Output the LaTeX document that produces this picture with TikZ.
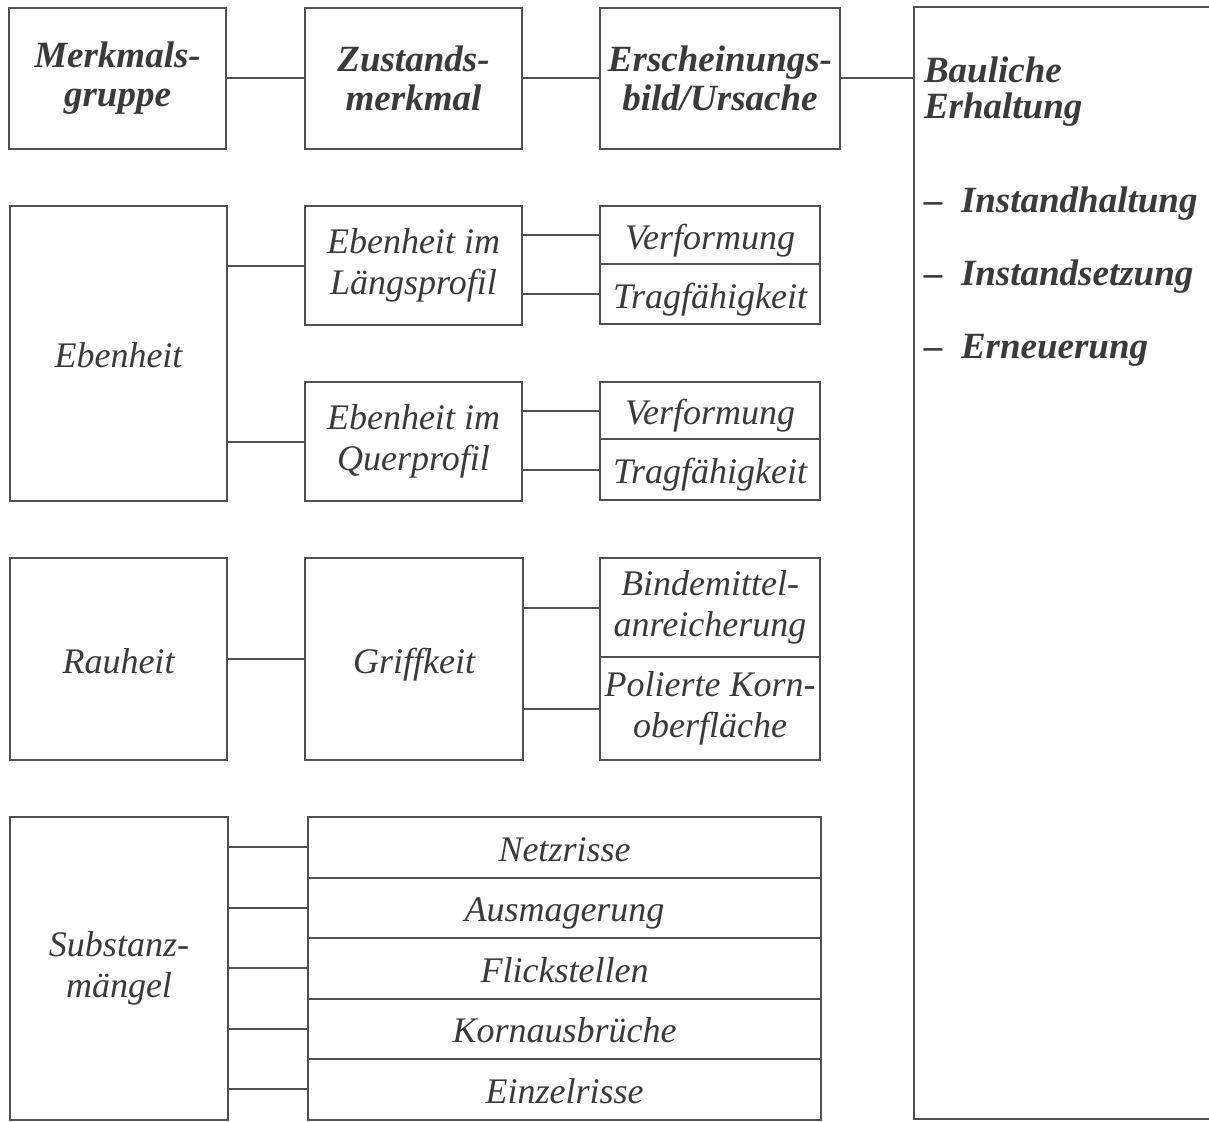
\documentclass[tikz,border=0pt]{standalone}
\usepackage{fontspec}
\setmainfont{Liberation Serif}
\definecolor{ink}{HTML}{3A3A3A}
\definecolor{rule}{HTML}{505050}

\begin{document}
\begin{tikzpicture}[x=1pt, y=-1pt, line width=2pt, color=rule, text=ink,
  every node/.style={font=\fontsize{36}{41}\selectfont\itshape, inner sep=0pt, align=center},
  box/.style={draw=rule, rectangle},
  oneline/.style={text height=28pt, text depth=0pt},
  head/.style={font=\fontsize{37}{39}\selectfont\bfseries\itshape}]
\useasboundingbox (0,0) rectangle (1209,1121);
\clip (0,0) rectangle (1209,1121);

\node[box, head, minimum width=217pt, minimum height=141pt] (gruppe) at (117.5, 78.5) {Merkmals-\\gruppe};
\node[box, head, minimum width=217pt, minimum height=141pt] (zustand) at (413.5, 78.5) {Zustands-\\merkmal};
\node[box, head, minimum width=240pt, minimum height=141pt] (bild) at (720, 78.5) {Erscheinungs-\\bild/Ursache};
\node[box, minimum width=316pt, minimum height=1112pt] (erh) at (1072, 563) {};

\node[head, anchor=base west] (bauliche) at (923, 83) {Bauliche};
\node[head, anchor=base west] (erhaltung) at (923, 118) {Erhaltung};
\node[head, anchor=base west] (instandh) at (923, 212) {–\enspace Instandhaltung};
\node[head, anchor=base west] (instands) at (923, 285) {–\enspace Instandsetzung};
\node[head, anchor=base west] (erneuer) at (923, 358) {–\enspace Erneuerung};

\node[box, oneline, minimum width=217pt, minimum height=295pt] (eben) at (118.5, 353.5) {Ebenheit};
\node[box, minimum width=217pt, minimum height=119pt] (laengs) at (413.5, 265.5) {Ebenheit im\\Längsprofil};
\node[box, oneline, minimum width=220pt, minimum height=58pt] (verf1) at (710, 235) {Verformung};
\node[box, oneline, minimum width=220pt, minimum height=60pt] (trag1) at (710, 294) {Tragfähigkeit};
\node[box, minimum width=217pt, minimum height=119pt] (quer) at (413.5, 441.5) {Ebenheit im\\Querprofil};
\node[box, oneline, minimum width=220pt, minimum height=57pt] (verf2) at (710, 410.5) {Verformung};
\node[box, oneline, minimum width=220pt, minimum height=61pt] (trag2) at (710, 469.5) {Tragfähigkeit};

\node[box, oneline, minimum width=217pt, minimum height=202pt] (rau) at (118.5, 659) {Rauheit};
\node[box, oneline, minimum width=218pt, minimum height=202pt] (griff) at (414, 659) {Griffkeit};
\node[box, minimum width=220pt, minimum height=99pt] (binde) at (710, 607.5) {Bindemittel-\\anreicherung};
\node[box, minimum width=220pt, minimum height=103pt] (poliert) at (710, 708.5) {Polierte Korn-\\oberfläche};

\node[box, minimum width=218pt, minimum height=303pt] (subst) at (119, 968.5) {Substanz-\\mängel};
\node[box, oneline, minimum width=513pt, minimum height=60.5pt] (netz) at (564.5, 847.25) {Netzrisse};
\node[box, oneline, minimum width=513pt, minimum height=60.5pt] (ausm) at (564.5, 907.75) {Ausmagerung};
\node[box, oneline, minimum width=513pt, minimum height=60.5pt] (flick) at (564.5, 968.25) {Flickstellen};
\node[box, oneline, minimum width=513pt, minimum height=60.5pt] (korn) at (564.5, 1028.75) {Kornausbrüche};
\node[box, oneline, minimum width=513pt, minimum height=60.5pt] (einzel) at (564.5, 1089.25) {Einzelrisse};

\draw (gruppe) to (zustand);
\draw (zustand) to (bild);
\draw (bild) to (bild -| erh.west);

\draw (eben.east |- laengs) to (laengs);
\draw (eben.east |- quer) to (quer);
\draw (laengs.east |- verf1) to (verf1);
\draw (laengs.east |- trag1) to (trag1);
\draw (quer.east |- verf2) to (verf2);
\draw (quer.east |- trag2) to (trag2);

\draw (rau) to (griff);
\draw (griff.east |- binde) to (binde);
\draw (griff.east |- poliert) to (poliert);

\draw (subst.east |- netz) to (netz);
\draw (subst.east |- ausm) to (ausm);
\draw (subst.east |- flick) to (flick);
\draw (subst.east |- korn) to (korn);
\draw (subst.east |- einzel) to (einzel);
\end{tikzpicture}
\end{document}
